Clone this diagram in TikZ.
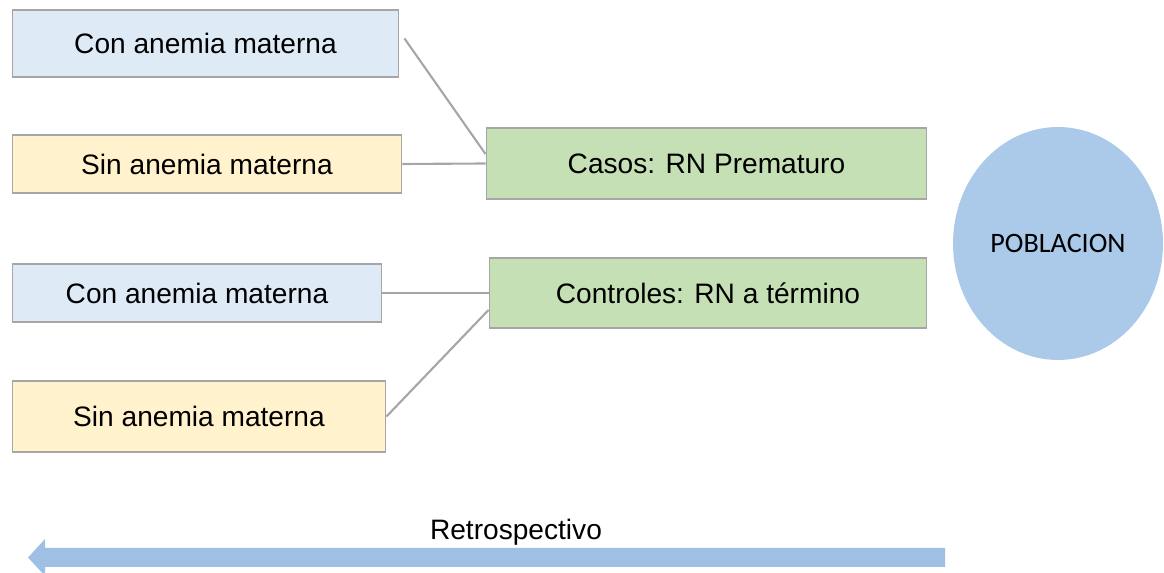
\documentclass[tikz,border=0pt]{standalone}
\usepackage{fontspec}
\usetikzlibrary{shapes.geometric}
\setmainfont{Liberation Sans}
\newfontfamily\calfont{Carlito}
\definecolor{conblue}{HTML}{DEEBF7}
\definecolor{sinyellow}{HTML}{FFF2CC}
\definecolor{grpgreen}{HTML}{C5E0B4}
\definecolor{pobblue}{HTML}{ABCAE9}
\definecolor{arrowblue}{HTML}{9FBFE5}
\definecolor{boxgray}{HTML}{A6A6A6}
\begin{document}
\begin{tikzpicture}
  [x=0.02cm,y=-0.02cm,
   every node/.style={inner sep=0pt,font=\fontsize{16}{19}\selectfont},
   box/.style={draw=boxgray,line width=0.6pt},
   link/.style={draw=boxgray,line width=1.2pt}]
  \useasboundingbox (0,0) rectangle (1164,573);

  \node[box,fill=conblue,minimum width=7.74cm,minimum height=1.34cm] (con1) at (205.5,43.5) {Con anemia materna};
  \node[box,fill=sinyellow,minimum width=7.8cm,minimum height=1.16cm] (sin1) at (207,164) {Sin anemia materna};
  \node[box,fill=grpgreen,minimum width=8.82cm,minimum height=1.42cm] (casos) at (706.5,163.5) {Casos: RN Prematuro};
  \node[box,fill=conblue,minimum width=7.4cm,minimum height=1.16cm] (con2) at (197,293) {Con anemia materna};
  \node[box,fill=grpgreen,minimum width=8.76cm,minimum height=1.4cm] (controles) at (708,293) {Controles: RN a término};
  \node[box,fill=sinyellow,minimum width=7.48cm,minimum height=1.42cm] (sin2) at (199,416.5) {Sin anemia materna};
  \node[ellipse,fill=pobblue,minimum width=4.2cm,minimum height=4.66cm,font=\calfont\fontsize{16}{19}\selectfont] (pob) at (1058,243.5) {POBLACION};

  \draw[link] ([xshift=0.1cm,yshift=0.1cm]con1.east) -- ([yshift=0.19cm]casos.west);
  \draw[link] (sin1.east) -- (casos.west);
  \draw[link] (con2.east) -- (controles.west);
  \draw[link] (sin2.east) -- ([yshift=-0.34cm]controles.west);

  % flecha de tiempo
  \fill[arrowblue] (945,548) -- (45,548) -- (45,539) -- (28,557.5) -- (45,576) -- (45,567) -- (945,567) -- cycle;
  \node (retro) at (516,532) {Retrospectivo};

\end{tikzpicture}
\end{document}
